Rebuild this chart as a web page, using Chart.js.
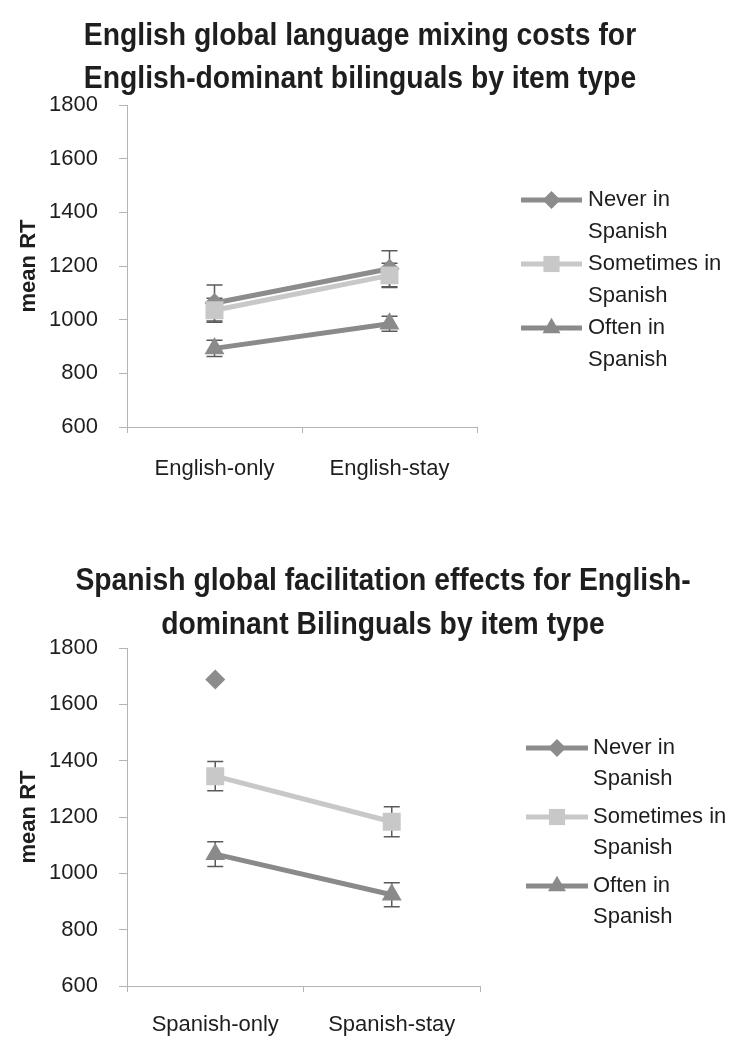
<!DOCTYPE html>
<html>
<head>
<meta charset="utf-8">
<script src="https://cdn.jsdelivr.net/npm/chart.js@4.4.0/dist/chart.umd.min.js"></script>
<style>
  html, body { margin: 0; padding: 0; background: #fff; }
  body { width: 744px; height: 1048px; position: relative; overflow: hidden; }
  canvas { position: absolute; left: 0; }
  #chartTop { top: 0; }
  #chartBottom { top: 540px; }
</style>
</head>
<body>
<canvas id="chartTop" width="744" height="500"></canvas>
<canvas id="chartBottom" width="744" height="508"></canvas>
<script>
// ================= DATA =================
const seriesLabels = [["Never in", "Spanish"], ["Sometimes in", "Spanish"], ["Often in", "Spanish"]];
const yTicks = [600, 800, 1000, 1200, 1400, 1600, 1800];

// English chart
const englishCategories = ["English-only", "English-stay"];
const englishNever = [1062, 1190];
const englishNeverErr = [67, 67];
const englishSometimes = [1035, 1165];
const englishSometimesErr = [45, 45];
const englishOften = [893, 985];
const englishOftenErr = [30, 28];

// Spanish chart
const spanishCategories = ["Spanish-only", "Spanish-stay"];
const spanishNever = [1688, null];
const spanishNeverErr = [0, null];
const spanishSometimes = [1345, 1183];
const spanishSometimesErr = [52, 53];
const spanishOften = [1068, 924];
const spanishOftenErr = [44, 43];

// ================= STYLE =================
const FONT = "'Liberation Sans', Arial, sans-serif";
const TEXT = "#1e1e1e";
const AXIS = "#b4b4b4";
const styles = [
  { color: "#8c8c8c", pointStyle: "rectRot", radius: 10, order: 3 },
  { color: "#c8c8c8", pointStyle: "rect", radius: 12.7, order: 2 },
  { color: "#8a8a8a", pointStyle: "triangle", radius: 11.5, order: 1 }
];

// ================= ERROR BARS =================
const errorBars = {
  id: "errorBars",
  beforeDatasetsDraw(chart) {
    const { ctx, scales: { x, y } } = chart;
    ctx.save();
    ctx.strokeStyle = "#5a5a5a";
    ctx.lineWidth = 1.5;
    chart.data.datasets.forEach(ds => {
      ds.data.forEach((v, j) => {
        const e = ds.errors[j];
        if (v == null || !e) return;
        const px = x.getPixelForValue(j);
        const top = y.getPixelForValue(v + e);
        const bot = y.getPixelForValue(v - e);
        ctx.beginPath();
        ctx.moveTo(px, top); ctx.lineTo(px, bot);
        ctx.moveTo(px - 8, top); ctx.lineTo(px + 8, top);
        ctx.moveTo(px - 8, bot); ctx.lineTo(px + 8, bot);
        ctx.stroke();
      });
    });
    ctx.restore();
  }
};

// ================= TITLE (condensed bold, centred on page) =================
const pageTitle = {
  id: "pageTitle",
  afterDraw(chart, args, opts) {
    const ctx = chart.ctx;
    ctx.save();
    ctx.fillStyle = TEXT;
    ctx.font = "bold 32px " + FONT;
    ctx.textAlign = "center";
    ctx.textBaseline = "alphabetic";
    opts.lines.forEach((t, k) => {
      ctx.save();
      ctx.translate(opts.cx, opts.baseline + k * opts.lineGap);
      ctx.scale(0.885, 1);
      ctx.fillText(t, 0, 0);
      ctx.restore();
    });
    ctx.restore();
  }
};

// ================= SIDE LEGEND =================
function drawMarker(ctx, style, cx, cy, r) {
  ctx.beginPath();
  if (style === "rectRot") {
    ctx.moveTo(cx - r, cy); ctx.lineTo(cx, cy - r); ctx.lineTo(cx + r, cy); ctx.lineTo(cx, cy + r);
  } else if (style === "rect") {
    const s = r * Math.SQRT1_2;
    ctx.rect(cx - s, cy - s, 2 * s, 2 * s);
  } else {
    ctx.moveTo(cx, cy - r);
    ctx.lineTo(cx + r * 0.866, cy + r * 0.5);
    ctx.lineTo(cx - r * 0.866, cy + r * 0.5);
  }
  ctx.closePath();
  ctx.fill();
}

const sideLegend = {
  id: "sideLegend",
  afterDraw(chart, args, opts) {
    const ctx = chart.ctx;
    ctx.save();
    chart.data.datasets.forEach((ds, i) => {
      const y = opts.firstY + i * opts.gap;
      ctx.strokeStyle = ds.borderColor;
      ctx.fillStyle = ds.borderColor;
      ctx.lineWidth = 5;
      ctx.beginPath();
      ctx.moveTo(opts.x0, y); ctx.lineTo(opts.x1, y);
      ctx.stroke();
      drawMarker(ctx, ds.pointStyle, (opts.x0 + opts.x1) / 2, y, ds.pointRadius * 0.9);
      ctx.fillStyle = TEXT;
      ctx.font = "22px " + FONT;
      ctx.textBaseline = "middle";
      ctx.textAlign = "left";
      ds.legendLines.forEach((t, k) => ctx.fillText(t, opts.textX, y + k * opts.lineGap));
    });
    ctx.restore();
  }
};

// ================= BUILD =================
function makeDatasets(values, errors) {
  return values.map((v, i) => ({
    label: seriesLabels[i].join(" "),
    legendLines: seriesLabels[i],
    data: v,
    errors: errors[i],
    borderColor: styles[i].color,
    backgroundColor: styles[i].color,
    pointBackgroundColor: styles[i].color,
    pointBorderWidth: 0,
    pointStyle: styles[i].pointStyle,
    pointRadius: styles[i].radius,
    borderWidth: 5,
    order: styles[i].order,
    tension: 0
  }));
}

function makeChart(id, categories, values, errors, title, lay) {
  return new Chart(document.getElementById(id), {
    type: "line",
    data: { labels: categories, datasets: makeDatasets(values, errors) },
    options: {
      responsive: false,
      animation: false,
      layout: { padding: { left: 0, right: 744 - lay.right, top: lay.top, bottom: 0 } },
      plugins: {
        legend: { display: false },
        tooltip: { enabled: false },
        title: { display: false },
        pageTitle: lay.title,
        sideLegend: lay.legend
      },
      scales: {
        x: {
          offset: true,
          afterFit(scale) { scale.height = lay.xHeight; },
          border: { color: AXIS, width: 1 },
          grid: { offset: true, drawOnChartArea: false, drawTicks: true, tickLength: 6, color: AXIS },
          ticks: { color: TEXT, font: { family: FONT, size: 22 }, padding: lay.xPad }
        },
        y: {
          min: yTicks[0],
          max: yTicks[yTicks.length - 1],
          afterFit(scale) { scale.width = 127; },
          afterBuildTicks(scale) { scale.ticks = yTicks.map(v => ({ value: v })); },
          border: { color: AXIS, width: 1 },
          grid: { drawOnChartArea: false, drawTicks: true, tickLength: 8, color: AXIS },
          ticks: { color: TEXT, font: { family: FONT, size: 22 }, padding: 21, callback: v => String(v) },
          title: {
            display: true,
            text: "mean RT",
            color: TEXT,
            font: { family: FONT, size: 22, weight: "bold" },
            padding: { top: 16, bottom: 0 }
          }
        }
      }
    },
    plugins: [errorBars, pageTitle, sideLegend]
  });
}

// ================= INIT =================
makeChart("chartTop", englishCategories,
  [englishNever, englishSometimes, englishOften],
  [englishNeverErr, englishSometimesErr, englishOftenErr],
  null,
  { right: 477, top: 105, xHeight: 73, xPad: 23,
    title: { lines: ["English global language mixing costs for", "English-dominant bilinguals by item type"],
             cx: 360, baseline: 45, lineGap: 43 },
    legend: { x0: 521, x1: 582, textX: 588, firstY: 200, gap: 64, lineGap: 32 } });

makeChart("chartBottom", spanishCategories,
  [spanishNever, spanishSometimes, spanishOften],
  [spanishNeverErr, spanishSometimesErr, spanishOftenErr],
  null,
  { right: 480, top: 108, xHeight: 62, xPad: 20,
    title: { lines: ["Spanish global facilitation effects for English-", "dominant Bilinguals by item type"],
             cx: 383, baseline: 50, lineGap: 44 },
    legend: { x0: 526, x1: 588, textX: 593, firstY: 208, gap: 69, lineGap: 31 } });
</script>
</body>
</html>
